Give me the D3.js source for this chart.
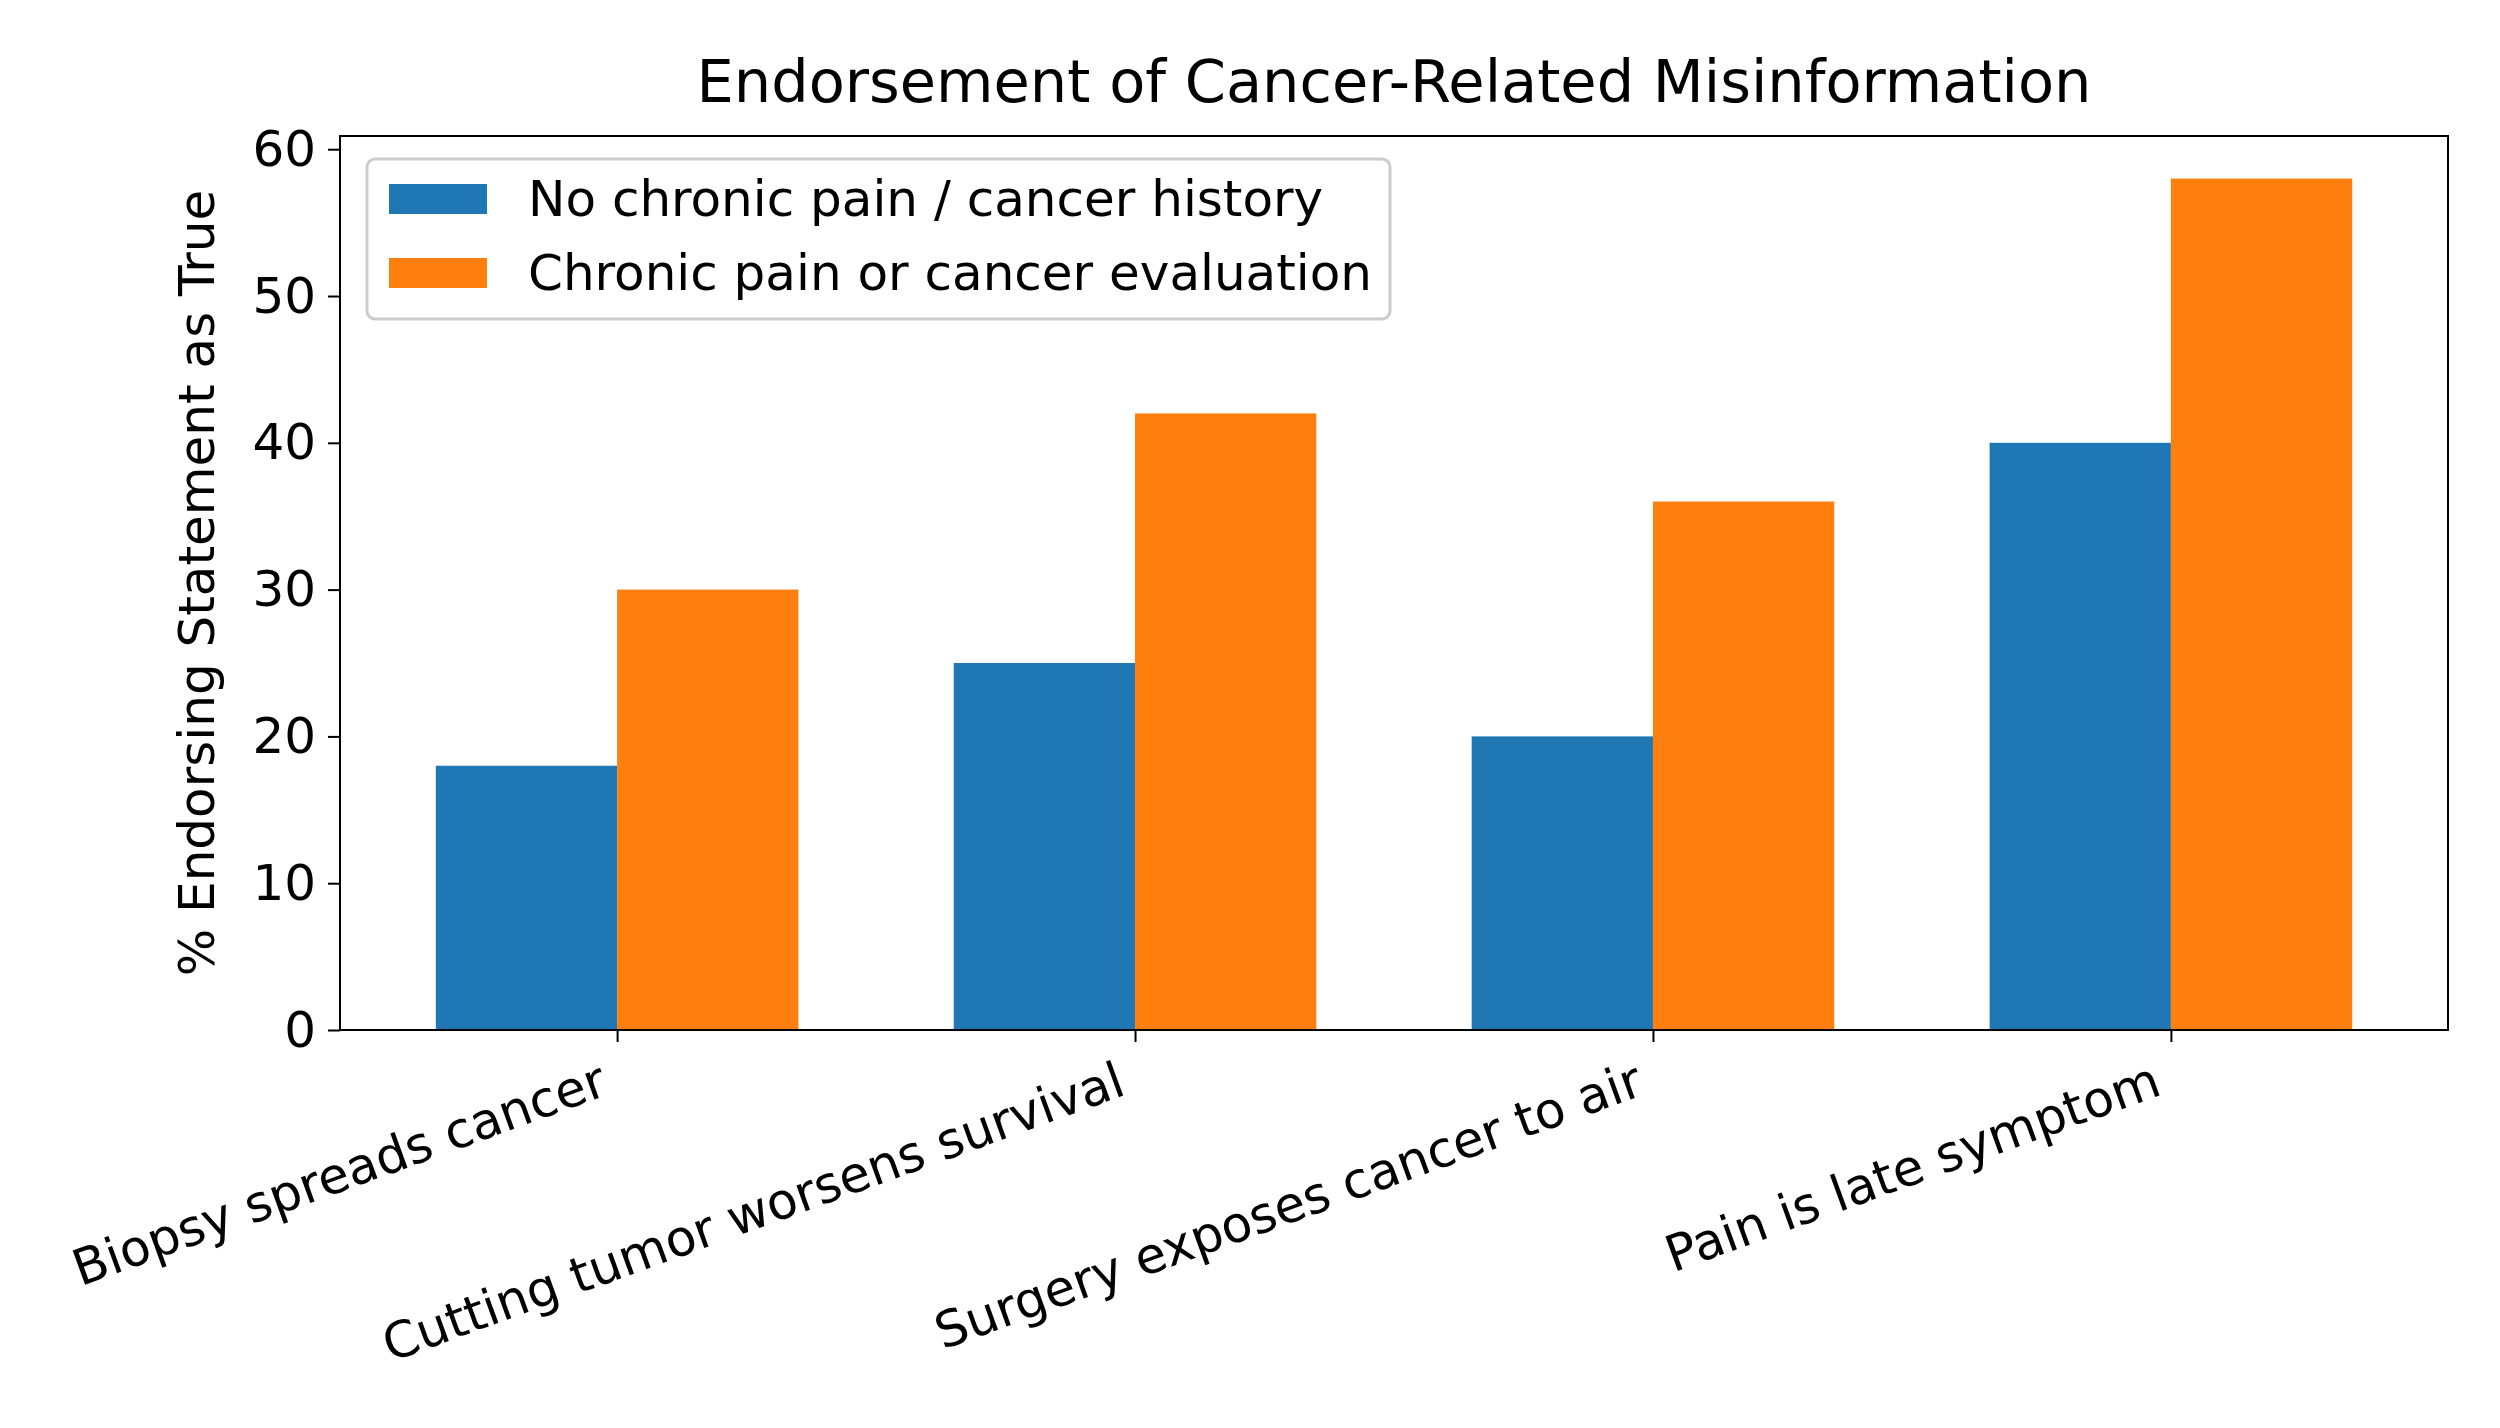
<!DOCTYPE html>
<html><head><meta charset="utf-8">
<script src="https://cdn.jsdelivr.net/npm/d3@7"></script>
<style>body{margin:0;background:#fff}text{font-family:"DejaVu Sans",sans-serif;fill:#000}</style>
</head><body><svg id="c" width="2500" height="1428"></svg>
<script>
const categories = ["Biopsy spreads cancer","Cutting tumor worsens survival","Surgery exposes cancer to air","Pain is late symptom"];
const seriesNames = ["No chronic pain / cancer history","Chronic pain or cancer evaluation"];
const noHistory = [18,25,20,40];
const chronic = [30,42,36,58];
const yTicks = [0,10,20,30,40,50,60];
const colors = ["#1f77b4","#ff7f0e"];

const svg = d3.select("#c");
const L=340,R=2448,T=136,B=1030;
const fs = "50px";
const x = d3.scaleLinear().domain([-0.535,3.535]).range([L,R]);
const y = d3.scaleLinear().domain([0,60.9]).range([B,T]);
const bw = 0.35;
[noHistory,chronic].forEach((s,si)=>{
  svg.append("g").selectAll("rect").data(s).join("rect")
    .attr("x",(d,i)=>x(i+(si===0?-bw:0)))
    .attr("width",x(bw)-x(0))
    .attr("y",d=>y(d)).attr("height",d=>y(0)-y(d))
    .attr("fill",colors[si]);
});
const yA = svg.append("g").attr("transform",`translate(${L},0)`)
  .call(d3.axisLeft(y).tickValues(yTicks).tickSize(12).tickPadding(12));
yA.selectAll("text").style("font-size",fs).attr("font-family","DejaVu Sans");
const xA = svg.append("g").attr("transform",`translate(0,${B})`)
  .call(d3.axisBottom(x).tickValues([0,1,2,3]).tickFormat(i=>categories[i]).tickSize(12));
xA.selectAll("text").style("font-size",fs).attr("text-anchor","end")
  .attr("y",0).attr("dy",0)
  .attr("transform","translate(-8,64) rotate(-20)");
svg.selectAll(".domain").remove();
svg.selectAll(".tick line").attr("stroke","#000").attr("stroke-width",2);
svg.append("rect").attr("x",L).attr("y",T).attr("width",R-L).attr("height",B-T)
  .attr("fill","none").attr("stroke","#000").attr("stroke-width",2);
svg.append("text").attr("x",(L+R)/2).attr("y",102).attr("text-anchor","middle")
  .style("font-size","59px").text("Endorsement of Cancer-Related Misinformation");
svg.append("text").attr("transform",`translate(214,${(T+B)/2}) rotate(-90)`)
  .attr("text-anchor","middle").style("font-size",fs).text("% Endorsing Statement as True");
const lg = svg.append("g");
lg.append("rect").attr("x",367).attr("y",159).attr("width",1023).attr("height",160)
  .attr("rx",8).attr("fill","#fff").attr("fill-opacity",0.8).attr("stroke","#ccc").attr("stroke-width",3);
seriesNames.forEach((n,i)=>{
  const cy = 199 + i*74;
  lg.append("rect").attr("x",389).attr("y",cy-15).attr("width",98).attr("height",30).attr("fill",colors[i]);
  lg.append("text").attr("x",528).attr("y",cy+17).style("font-size",fs).text(n);
});
</script></body></html>
